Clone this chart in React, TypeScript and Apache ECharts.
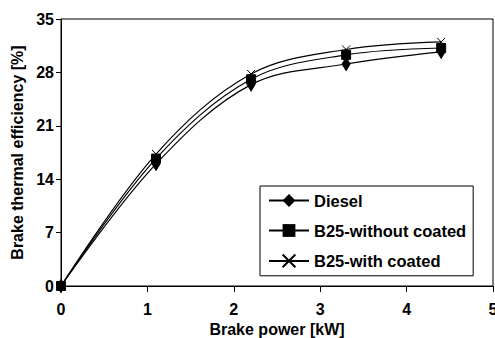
import React, { useEffect, useRef } from "react";
import * as echarts from "echarts";

const powerKW = [0, 1.1, 2.2, 3.3, 4.4];
const diesel = [0, 16.0, 26.4, 29.1, 30.7];
const b25Without = [0, 16.7, 27.1, 30.3, 31.2];
const b25With = [0, 17.3, 27.8, 31.0, 32.0];
const seriesNames = ["Diesel", "B25-without coated", "B25-with coated"];

const FONT = "Liberation Sans, Arial, sans-serif";

export default function App() {
  const ref = useRef<HTMLDivElement>(null);
  useEffect(() => {
    if (!ref.current) return;
    const chart = echarts.init(ref.current, null, { renderer: "svg" });
    const pairs = (vals: number[]) => powerKW.map((x, i) => [x, vals[i]]);
    const common = {
      type: "line" as const,
      smooth: 0.35,
      lineStyle: { color: "#000", width: 1.2 },
      z: 3,
    };
    chart.setOption({
      animation: false,
      backgroundColor: "#fff",
      textStyle: { fontFamily: FONT },
      grid: {
        left: 61,
        right: 2,
        top: 19,
        bottom: 52,
        outerBoundsMode: "none",
        containLabel: false,
        show: true,
        borderColor: "#000",
        borderWidth: 1,
      },
      xAxis: {
        type: "value",
        min: 0,
        max: 5,
        interval: 1,
        name: "Brake power [kW]",
        nameLocation: "middle",
        nameGap: 35,
        nameTextStyle: { color: "#000", fontSize: 16, fontWeight: "bold", fontFamily: FONT },
        axisLine: { lineStyle: { color: "#000", width: 1 } },
        axisTick: { show: true, inside: false, length: 6, lineStyle: { color: "#000" } },
        axisLabel: { color: "#000", fontSize: 16, fontWeight: "bold", fontFamily: FONT, margin: 15 },
        splitLine: { show: false },
      },
      yAxis: {
        type: "value",
        min: 0,
        max: 35,
        interval: 7,
        name: "Brake thermal efficiency [%]",
        nameLocation: "middle",
        nameGap: 29,
        nameTextStyle: { color: "#000", fontSize: 16, fontWeight: "bold", fontFamily: FONT },
        axisLine: { show: true, lineStyle: { color: "#000", width: 1 } },
        axisTick: { show: true, inside: false, length: 5, lineStyle: { color: "#000" } },
        axisLabel: { color: "#000", fontSize: 16, fontWeight: "bold", fontFamily: FONT, margin: 7 },
        splitLine: { show: false },
      },
      legend: {
        left: 260,
        top: 186,
        orient: "vertical",
        padding: [6, 7, 6, 8],
        itemGap: 13,
        itemWidth: 40,
        itemHeight: 16,
        borderColor: "#000",
        borderWidth: 1,
        backgroundColor: "#fff",
        textStyle: { color: "#000", fontSize: 16.5, fontWeight: "bold", fontFamily: FONT },
        data: seriesNames,
      },
      series: [
        {
          ...common,
          name: seriesNames[0],
          data: pairs(diesel),
          symbol: "diamond",
          symbolSize: [8, 13],
          itemStyle: { color: "#000", borderColor: "#000" },
        },
        {
          ...common,
          name: seriesNames[1],
          data: pairs(b25Without),
          symbol: "rect",
          symbolSize: 9,
          itemStyle: { color: "#000", borderColor: "#000" },
        },
        {
          ...common,
          name: seriesNames[2],
          data: pairs(b25With),
          symbol: "path://M0,0L10,10M0,10L10,0",
          symbolSize: 8,
          itemStyle: { color: "none", borderColor: "#000", borderWidth: 1 },
        },
      ],
    });
    return () => chart.dispose();
  }, []);
  return (
    <div
      ref={ref}
      style={{ position: "absolute", left: 0, top: 0, width: 495, height: 338 }}
    />
  );
}
